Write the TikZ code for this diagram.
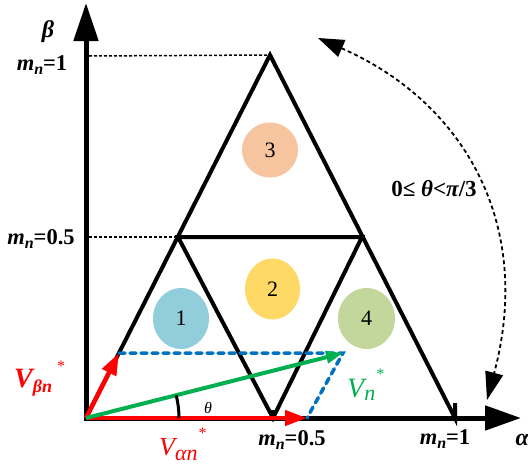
\documentclass[tikz,border=0pt]{standalone}
\usepackage{fontspec}
\setmainfont{Liberation Serif}
\usetikzlibrary{arrows.meta,shapes.geometric}
\definecolor{vred}{HTML}{FF0000}
\definecolor{vgreen}{HTML}{00B050}
\definecolor{vblue}{HTML}{0070C0}
\definecolor{cone}{HTML}{92CDDC}
\definecolor{ctwo}{HTML}{FFD966}
\definecolor{cthree}{HTML}{F7C4A0}
\definecolor{cfour}{HTML}{C3D69B}
\newcommand{\fs}[1]{\fontsize{#1}{#1}\selectfont}
\newcommand{\mlabel}[1]{{\bfseries\itshape m}\raisebox{-4pt}{\fs{16}\bfseries\itshape n}{\bfseries =#1}}
\begin{document}
\begin{tikzpicture}[x=1pt,y=-1pt,
  axisline/.style={line width=5pt,{Triangle[length=38pt,width=24pt]}-{Triangle[length=36pt,width=24pt]}},
  triline/.style={line width=4pt},
  guide/.style={line width=1.5pt,dash pattern=on 3pt off 2pt},
  redvec/.style={vred,line width=4.5pt,-{Triangle[length=22pt,width=15pt]}},
  greenvec/.style={vgreen,line width=4pt,-{Triangle[length=17pt,width=12pt]}},
  projline/.style={vblue,line width=3.5pt,dash pattern=on 6pt off 5pt,line cap=round},
  region/.style={ellipse,inner sep=0pt,font=\fs{22}},
  mtext/.style={font=\fs{22.5}},
  rangearrow/.style={line width=1.8pt,dash pattern=on 4pt off 3pt,{Triangle[length=26pt,width=18pt]}-{Triangle[length=28pt,width=18pt]}}
]
\useasboundingbox (0,0) rectangle (528,466);
% key points
\coordinate (O) at (86,418);
\coordinate (btip) at (86,3);
\coordinate (atip) at (521,418);
\coordinate (A) at (270,55);
\coordinate (R) at (455,418);
\coordinate (Lm) at (178,237);
\coordinate (Rm) at (362,237);
\coordinate (M) at (273,418);
\coordinate (Pb) at (119,353);
\coordinate (P) at (343,353);
\coordinate (Pa) at (307,418);
\coordinate (guideA) at (89,56);
\coordinate (guideL) at (89,237);
\coordinate (thetaS) at (179,418);
\coordinate (rgS) at (318,38);
\coordinate (rgE) at (487,400);

% guides
\draw[guide] (guideA) -- (A);
\draw[guide] (guideL) -- (Lm);

% regions
\node[region,fill=cthree,minimum width=56pt,minimum height=55pt] (r3) at (270,150) {3};
\node[region,fill=ctwo,minimum width=55pt,minimum height=61pt] (r2) at (272.5,289) {2};
\node[region,fill=cone,minimum width=56pt,minimum height=61pt] (r1) at (181,318.5) {1};
\node[region,fill=cfour,minimum width=57pt,minimum height=61pt] (r4) at (366.5,318.5) {4};

% triangles
\draw[triline] (O) -- (A) -- (R) -- ++(0,-15);
\draw[triline] (Lm) -- (Rm) -- (M) -- cycle;
\draw[triline] (M) -- ++(0,-8);

% axes
\draw[axisline] (btip) -- (O) -- (atip);

% projections
\draw[projline] (Pb) -- (P) -- (Pa);

% vectors
\draw[redvec] (O) -- (Pa);
\draw[redvec] (O) -- (Pb);
\draw[greenvec] (O) -- (P);

% theta arc
\draw[line width=3pt] (thetaS) arc[start angle=0,end angle=-14.2,radius=93];
\node[font=\fs{16}\itshape] (th) at (208,408) {θ};

% range arrow
\draw[rangearrow] (rgS) .. controls (460,100) and (535,220) .. (rgE);
\node[font=\fs{23}\bfseries] (range) at (434,189) {0≤ {\itshape θ}<{\itshape π}/3};

% axis labels
\node[font=\fs{24}\bfseries\itshape] (beta) at (48,32) {β};
\node[font=\fs{24}\bfseries\itshape,anchor=west] (alpha) at (512,440) {α};
\node[mtext] (m1l) at (42,65) {\mlabel{1}};
\node[mtext] (m05l) at (41,239) {\mlabel{0.5}};
\node[mtext] (m05b) at (292,440) {\mlabel{0.5}};
\node[mtext] (m1b) at (445,439) {\mlabel{1}};

% vector labels
\node[vred,anchor=base west,inner sep=0pt] (vbeta) at (14,387)
  {{\fs{28}\bfseries\itshape V}\raisebox{-5pt}{\fs{18}\bfseries\itshape βn}\hspace{5pt}\raisebox{16pt}{\fs{16}*}};
\node[vred,anchor=base west,inner sep=0pt] (valpha) at (159,455)
  {{\fs{26}\itshape V}\raisebox{-5pt}{\fs{22}\itshape αn}\hspace{1pt}\raisebox{17pt}{\fs{16}*}};
\node[vgreen,anchor=base west,inner sep=0pt] (vn) at (347,397)
  {{\fs{28}\itshape V}\raisebox{-3pt}{\fs{22}\itshape n}\hspace{1pt}\raisebox{18pt}{\fs{16}*}};
\end{tikzpicture}
\end{document}
